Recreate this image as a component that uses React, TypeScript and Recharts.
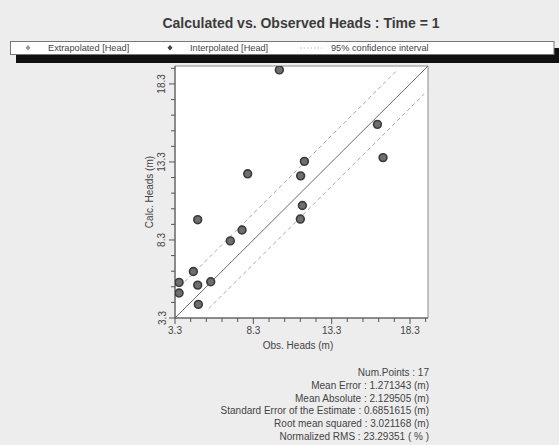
import React from 'react';
import { ScatterChart, Scatter, XAxis, YAxis, ReferenceLine, ReferenceArea } from 'recharts';

const obsHeads = [9.96, 16.22, 16.58, 11.56, 7.94, 11.32, 11.43, 11.3, 4.75, 7.58, 6.83, 4.47, 3.56, 5.58, 4.75, 3.56, 4.79];
const calcHeads = [19.2, 15.71, 13.58, 13.34, 12.54, 12.41, 10.51, 9.64, 9.6, 8.94, 8.24, 6.28, 5.58, 5.62, 5.41, 4.9, 4.17];
const axisRange: [number, number] = [3.3, 19.45];
const majorTicks = [3.3, 8.3, 13.3, 18.3];
const minorTicks = [4.3, 5.3, 6.3, 7.3, 9.3, 10.3, 11.3, 12.3, 14.3, 15.3, 16.3, 17.3, 19.3];
const upperBand = [{ x: 3.6, y: 5.3 }, { x: 17.4, y: 19.1 }];
const lowerBand = [{ x: 5.45, y: 3.9 }, { x: 19.2, y: 17.65 }];
const identityLine = [{ x: 3.3, y: 3.3 }, { x: 19.45, y: 19.45 }];
const titleText = 'Calculated vs. Observed Heads : Time = 1';
const legendLabels = ['Extrapolated [Head]', 'Interpolated [Head]', '95% confidence interval'];
const xLabel = 'Obs. Heads (m)';
const yLabel = 'Calc. Heads (m)';
const statsLines = [
  'Num.Points : 17',
  'Mean Error : 1.271343 (m)',
  'Mean Absolute : 2.129505 (m)',
  'Standard Error of the Estimate : 0.6851615 (m)',
  'Root mean squared : 3.021168 (m)',
  'Normalized RMS : 23.29351 ( % )',
];

const FONT = '"Liberation Sans", Arial, sans-serif';
const allTicks = [...majorTicks, ...minorTicks].sort((a, b) => a - b);
const points = obsHeads.map((x, i) => ({ x, y: calcHeads[i] }));

const XTick = (props: any) => {
  const { x, y, payload } = props;
  const major = majorTicks.includes(payload.value);
  return (
    <g>
      <line x1={x} x2={x} y1={y} y2={y + (major ? 6 : 4)} stroke="#555" strokeWidth={1} />
      {major && (
        <text x={x} y={y + 16} textAnchor="middle" fontSize={10} fill="#444" fontFamily={FONT}>
          {payload.value}
        </text>
      )}
    </g>
  );
};

const YTick = (props: any) => {
  const { x, y, payload } = props;
  const major = majorTicks.includes(payload.value);
  const tx = x - 9.5;
  return (
    <g>
      <line x1={x} x2={x - (major ? 6 : 4)} y1={y} y2={y} stroke="#555" strokeWidth={1} />
      {major && (
        <text x={tx} y={y} transform={`rotate(-90, ${tx}, ${y})`} textAnchor="middle" fontSize={10} fill="#444" fontFamily={FONT}>
          {payload.value}
        </text>
      )}
    </g>
  );
};

const Dot = (props: any) => {
  const { cx, cy } = props;
  return <circle cx={cx} cy={cy} r={3.9} fill="#6e6e6e" stroke="#3a3a3a" strokeWidth={1.6} />;
};

export default function App() {
  return (
    <div style={{ position: 'absolute', left: 0, top: 0, width: 559, height: 445, background: '#ededed', overflow: 'hidden' }}>
      <div style={{ position: 'absolute', left: 0, top: 0 }}>
        <ScatterChart width={559} height={445} margin={{ top: 66, right: 131, bottom: 97, left: 115 }}>
          <XAxis
            type="number"
            dataKey="x"
            domain={axisRange}
            ticks={allTicks}
            interval={0}
            allowDataOverflow
            height={30}
            tickSize={0}
            tickMargin={0}
            tickLine={false}
            axisLine={{ stroke: '#555' }}
            tick={<XTick />}
          />
          <YAxis
            type="number"
            dataKey="y"
            domain={axisRange}
            ticks={allTicks}
            interval={0}
            allowDataOverflow
            width={60}
            tickSize={0}
            tickMargin={0}
            tickLine={false}
            axisLine={{ stroke: '#555' }}
            tick={<YTick />}
          />
          <ReferenceArea x1={axisRange[0]} x2={axisRange[1]} y1={axisRange[0]} y2={axisRange[1]} fill="#ffffff" fillOpacity={1} stroke="#8c8c8c" strokeWidth={1} />
          <ReferenceLine segment={upperBand} stroke="#a8a8a8" strokeWidth={1} strokeDasharray="4 3" />
          <ReferenceLine segment={lowerBand} stroke="#a8a8a8" strokeWidth={1} strokeDasharray="4 3" />
          <ReferenceLine segment={identityLine} stroke="#6a6a6a" strokeWidth={1} />
          <Scatter data={points} shape={<Dot />} isAnimationActive={false} />
        </ScatterChart>
      </div>
      <svg width={559} height={445} style={{ position: 'absolute', left: 0, top: 0, pointerEvents: 'none' }} fontFamily={FONT}>
        <text x={301} y={28} textAnchor="middle" fontSize={14} fontWeight="bold" fill="#3c3c3c">{titleText}</text>
        <rect x={16} y={48} width={543} height={15} fill="#111" />
        <rect x={10.5} y={41.5} width={543.5} height={13} fill="#fff" stroke="#777" strokeWidth={1} />
        <path d="M28 45 L30.5 47.8 L28 50.6 L25.5 47.8 Z" fill="#999" />
        <text x={48} y={51} fontSize={9.2} fill="#444">{legendLabels[0]}</text>
        <path d="M170 45 L172.5 47.8 L170 50.6 L167.5 47.8 Z" fill="#444" />
        <text x={190} y={51} fontSize={9.2} fill="#444">{legendLabels[1]}</text>
        <line x1={300} x2={322} y1={48} y2={48} stroke="#bbb" strokeWidth={1} strokeDasharray="1.5 2" />
        <text x={331} y={51} fontSize={9.2} fill="#444">{legendLabels[2]}</text>
        <text x={298} y={349} textAnchor="middle" fontSize={10} fill="#444">{xLabel}</text>
        <text x={153} y={192} transform="rotate(-90, 153, 192)" textAnchor="middle" fontSize={10} fill="#444">{yLabel}</text>
        {statsLines.map((s, i) => (
          <text key={i} x={429} y={376 + i * 12.8} textAnchor="end" fontSize={10} fill="#444">{s}</text>
        ))}
      </svg>
    </div>
  );
}
